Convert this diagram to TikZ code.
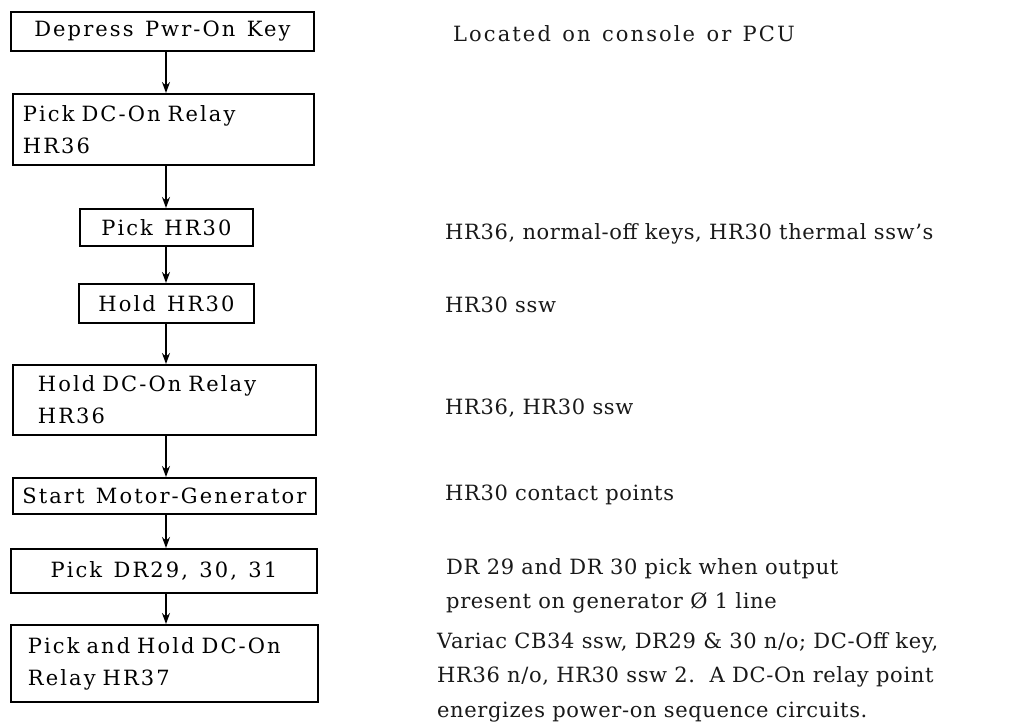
\documentclass[tikz,border=0pt]{standalone}
\usepackage{fontspec}
\setmainfont[LetterSpace=3]{DejaVu Serif}
\newfontfamily\boxfont[LetterSpace=10, WordSpace=1.3]{DejaVu Serif}
\usetikzlibrary{arrows.meta}
\tikzset{
  box/.style={draw=black, line width=1.8pt, anchor=north west, inner xsep=10pt, inner ysep=0pt, font=\boxfont\fontsize{21}{32}\selectfont},
  lbox/.style={box, align=left},
  note/.style={anchor=west, inner sep=0pt, align=left, font=\fontsize{21}{34.5}\selectfont, text=black!90},
  flow/.style={line width=1.6pt, -{Stealth[length=11pt, width=8pt]}}
}
\begin{document}
\begin{tikzpicture}[x=1pt, y=-1pt]
\useasboundingbox (0,0) rectangle (1034,723);
\fill[white] (0,0) rectangle (1034,723);
\coordinate (ax) at (166,0);
\node[box, minimum width=303pt, minimum height=39pt] (b1) at (10,11) {Depress Pwr-On Key};
\node[lbox, minimum width=301pt, minimum height=71pt, text width=281pt] (b2) at (12,93) {Pick DC-On Relay\\HR36};
\node[box, minimum width=173pt, minimum height=37pt] (b3) at (79,208) {Pick HR30};
\node[box, minimum width=175pt, minimum height=39pt] (b4) at (78,283) {Hold HR30};
\node[lbox, minimum width=303pt, minimum height=70pt, inner xsep=25pt, text width=253pt] (b5) at (12,364) {Hold DC-On Relay\\HR36};
\node[box, minimum width=303pt, minimum height=36pt, inner xsep=4pt] (b6) at (12,477) {Start Motor-Generator};
\node[box, minimum width=306pt, minimum height=44pt] (b7) at (10,548) {Pick DR29, 30, 31};
\node[lbox, minimum width=307pt, minimum height=77pt, inner xsep=17pt, text width=273pt] (b8) at (10,624) {Pick and Hold DC-On\\Relay HR37};
\draw[flow] (b1.south -| ax) -- (b2.north -| ax);
\draw[flow] (b2.south -| ax) -- (b3.north -| ax);
\draw[flow] (b3.south -| ax) -- (b4.north -| ax);
\draw[flow] (b4.south -| ax) -- (b5.north -| ax);
\draw[flow] (b5.south -| ax) -- (b6.north -| ax);
\draw[flow] (b6.south -| ax) -- (b7.north -| ax);
\draw[flow] (b7.south -| ax) -- (b8.north -| ax);
\node[note, font=\boxfont\fontsize{21}{34.5}\selectfont] (n1) at (453,34) {Located on console or PCU};
\node[note] (n3) at (445,234) {HR36,\ normal-off keys,\ HR30 thermal ssw's};
\node[note] (n4) at (445,305) {HR30 ssw};
\node[note] (n5) at (445,408) {HR36,\ HR30 ssw};
\node[note] (n6) at (445,495) {HR30 contact points};
\node[note] (n7) at (446,586) {DR 29 and DR 30 pick when output\\present on generator Ø 1 line};
\node[note] (n8) at (437,677) {Variac CB34 ssw, DR29 \& 30 n/o; DC-Off key,\\HR36 n/o, HR30 ssw 2.\ \ A DC-On relay point\\energizes power-on sequence circuits.};
\end{tikzpicture}
\end{document}
